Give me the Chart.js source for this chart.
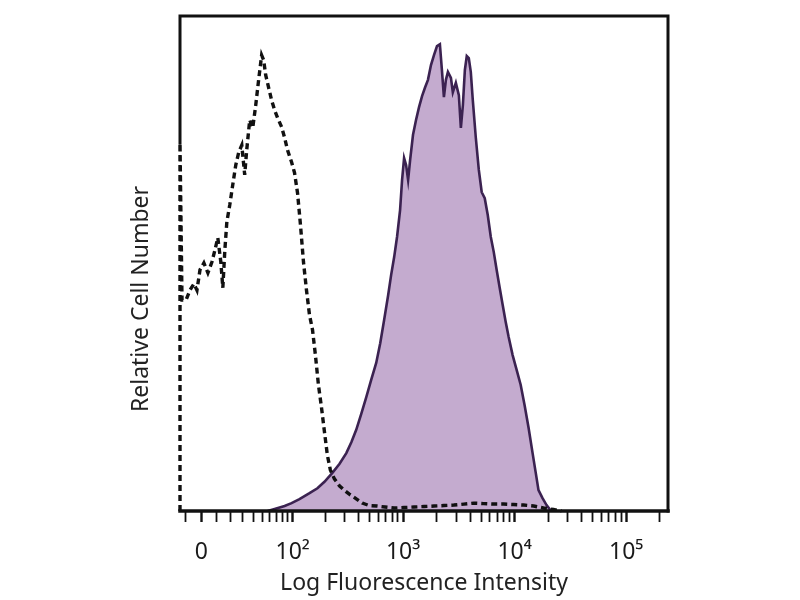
<!DOCTYPE html>
<html><head><meta charset="utf-8">
<script src="https://cdn.jsdelivr.net/npm/chart.js@4/dist/chart.umd.min.js"></script>
<style>html,body{margin:0;padding:0;background:#fff}canvas{display:block}</style>
</head><body>
<canvas id="c" width="800" height="600"></canvas>
<script>
const xTitle = 'Log Fluorescence Intensity';
const yTitle = 'Relative Cell Number';
// axis ticks, in fluorescence units (biexponential display)
const majorTickValues = [0, 100, 1000, 10000, 100000];
const majorTickLabels = ['0', '10²', '10³', '10⁴', '10⁵'];
const minorTickValues = [-10, 10, 20, 30, 40, 50, 60, 70, 80, 90,
  200, 300, 400, 500, 600, 700, 800, 900,
  2000, 3000, 4000, 5000, 6000, 7000, 8000, 9000,
  20000, 30000, 40000, 50000, 60000, 70000, 80000, 90000, 200000];

// histograms: x in display (decade) units, y = relative cell number
const isotypeX = [1.000, 1.000, 1.018, 1.054, 1.089, 1.125, 1.152, 1.179, 1.214, 1.250, 1.286, 1.313, 1.339, 1.366, 1.384, 1.402, 1.420, 1.446, 1.473, 1.500, 1.527, 1.554, 1.580, 1.598, 1.625, 1.652, 1.679, 1.705, 1.732, 1.750, 1.768, 1.795, 1.821, 1.848, 1.875, 1.911, 1.938, 1.964, 2.000, 2.027, 2.054, 2.080, 2.107, 2.134, 2.161, 2.188, 2.214, 2.241, 2.268, 2.295, 2.321, 2.348, 2.384, 2.429, 2.473, 2.518, 2.571, 2.634, 2.696, 2.768, 2.839, 2.920, 3.009, 3.098, 3.188, 3.277, 3.366, 3.455, 3.545, 3.634, 3.723, 3.813, 3.902, 3.991, 4.080, 4.170, 4.259, 4.348, 4.420];
const isotypeY = [0, 74.3, 42.6, 42.6, 44.6, 45.9, 44.6, 48.7, 50.1, 48.1, 50.3, 52.7, 55.2, 50.3, 45.1, 52.7, 58.4, 61.8, 65.9, 69.9, 72.5, 73.9, 67.9, 72.9, 79.0, 77.4, 82.0, 87.1, 92.1, 91.1, 88.1, 85.5, 83.0, 81.0, 79.4, 77.6, 75.4, 72.9, 70.5, 68.3, 64.2, 57.8, 50.3, 44.6, 39.6, 36.6, 31.5, 25.5, 21.0, 16.0, 11.3, 8.3, 6.5, 5.1, 4.2, 3.4, 2.6, 1.6, 1.1, 1.0, 0.8, 0.6, 0.7, 0.8, 0.9, 1.0, 1.1, 1.2, 1.4, 1.6, 1.5, 1.4, 1.4, 1.3, 1.2, 1.0, 0.6, 0.3, 0];
const stainedX = [1.786, 1.848, 1.938, 2.000, 2.071, 2.161, 2.232, 2.295, 2.366, 2.429, 2.491, 2.536, 2.580, 2.625, 2.670, 2.714, 2.759, 2.795, 2.830, 2.866, 2.893, 2.920, 2.946, 2.973, 2.991, 3.009, 3.027, 3.045, 3.063, 3.089, 3.116, 3.143, 3.170, 3.196, 3.223, 3.250, 3.277, 3.304, 3.330, 3.348, 3.366, 3.384, 3.402, 3.429, 3.446, 3.473, 3.500, 3.518, 3.536, 3.554, 3.571, 3.589, 3.607, 3.625, 3.652, 3.679, 3.705, 3.732, 3.759, 3.786, 3.813, 3.839, 3.866, 3.893, 3.920, 3.946, 3.982, 4.018, 4.054, 4.089, 4.125, 4.161, 4.188, 4.214, 4.250, 4.286, 4.321, 4.348];
const stainedY = [0, 0.4, 1.0, 1.6, 2.4, 3.6, 4.6, 5.9, 7.7, 9.5, 11.7, 13.9, 16.4, 19.6, 23.0, 26.5, 29.9, 33.9, 38.6, 43.6, 47.7, 51.3, 55.4, 60.8, 66.9, 71.3, 69.9, 66.9, 70.9, 76.0, 79.0, 81.6, 83.8, 85.5, 87.1, 90.1, 92.1, 93.9, 94.3, 89.1, 83.6, 87.1, 88.7, 87.5, 84.6, 86.5, 84.0, 77.4, 82.0, 89.1, 91.9, 91.5, 88.7, 83.0, 75.4, 68.9, 64.4, 63.2, 59.8, 55.4, 52.3, 48.7, 45.1, 41.6, 38.2, 35.2, 31.5, 28.5, 25.5, 21.4, 16.8, 11.7, 7.9, 4.2, 2.6, 1.2, 0.2, 0];

const W = 15.5;
const disp = v => Math.asinh(v / (2 * W)) / Math.LN10 + Math.log10(W);
const majorDisp = majorTickValues.map(disp);
const allTicks = majorDisp.map((v, i) => ({value: v, major: true, label: majorTickLabels[i]}))
  .concat(minorTickValues.map(v => ({value: disp(v), major: false, label: ''})))
  .sort((a, b) => a.value - b.value);

const frame = {
  id: 'frame',
  afterDatasetsDraw(chart) {
    const {ctx, chartArea: a, scales: {y}} = chart;
    const leftEnd = y.getPixelForValue(isotypeY[1]);
    ctx.save();
    ctx.strokeStyle = '#111';
    ctx.lineCap = 'square';
    ctx.lineWidth = 3;
    ctx.beginPath();
    ctx.moveTo(a.left, leftEnd); ctx.lineTo(a.left, a.top);
    ctx.lineTo(a.right, a.top); ctx.lineTo(a.right, a.bottom);
    ctx.stroke();
    ctx.lineWidth = 3.5;
    ctx.beginPath();
    ctx.moveTo(a.left, a.bottom); ctx.lineTo(a.right, a.bottom);
    ctx.stroke();
    // y axis title
    ctx.fillStyle = '#222';
    ctx.font = '23px "Noto Sans"';
    ctx.textAlign = 'center';
    ctx.textBaseline = 'middle';
    ctx.translate(141, 299);
    ctx.rotate(-Math.PI / 2);
    ctx.fillText(yTitle, 0, 0);
    ctx.restore();
  }
};

new Chart(document.getElementById('c'), {
  type: 'line',
  data: {
    datasets: [
      {
        label: 'Isotype',
        data: isotypeX.map((x, i) => ({x, y: isotypeY[i]})),
        borderColor: '#111',
        borderWidth: 3.4,
        borderDash: [6, 4],
        fill: false,
        pointRadius: 0,
        tension: 0,
        clip: 6,
        order: 0
      },
      {
        label: 'Stained',
        data: stainedX.map((x, i) => ({x, y: stainedY[i]})),
        borderColor: '#3b2251',
        borderWidth: 2.6,
        backgroundColor: '#c4abcf',
        fill: 'origin',
        pointRadius: 0,
        tension: 0,
        order: 1
      }
    ]
  },
  options: {
    responsive: false,
    animation: false,
    layout: {padding: {left: 0, right: 132, top: 16, bottom: 0}},
    plugins: {legend: {display: false}, tooltip: {enabled: false}},
    scales: {
      x: {
        type: 'linear',
        min: 1.0,
        max: 5.375,
        afterBuildTicks: s => { s.ticks = allTicks.map(t => ({value: t.value})); },
        afterFit: s => { s.height = 89; },
        border: {display: false},
        grid: {
          drawOnChartArea: false,
          drawTicks: true,
          tickLength: 11,
          tickColor: '#111',
          tickWidth: c => (majorDisp.some(v => Math.abs(v - c.tick.value) < 1e-9) ? 2.4 : 1.8)
        },
        ticks: {
          autoSkip: false,
          maxRotation: 0,
          padding: 17,
          color: '#1a1a1a',
          font: {family: '"Noto Sans"', size: 23},
          callback: v => { const t = allTicks.find(t => Math.abs(t.value - v) < 1e-9); return t ? t.label : ''; }
        },
        title: {
          display: true,
          text: xTitle,
          color: '#222',
          font: {family: '"Noto Sans"', size: 23},
          padding: {top: 0, bottom: 3}
        }
      },
      y: {
        min: 0,
        max: 100,
        afterFit: s => { s.width = 180; },
        border: {display: false},
        grid: {display: false},
        ticks: {display: false}
      }
    }
  },
  plugins: [frame]
});
</script>
</body></html>
